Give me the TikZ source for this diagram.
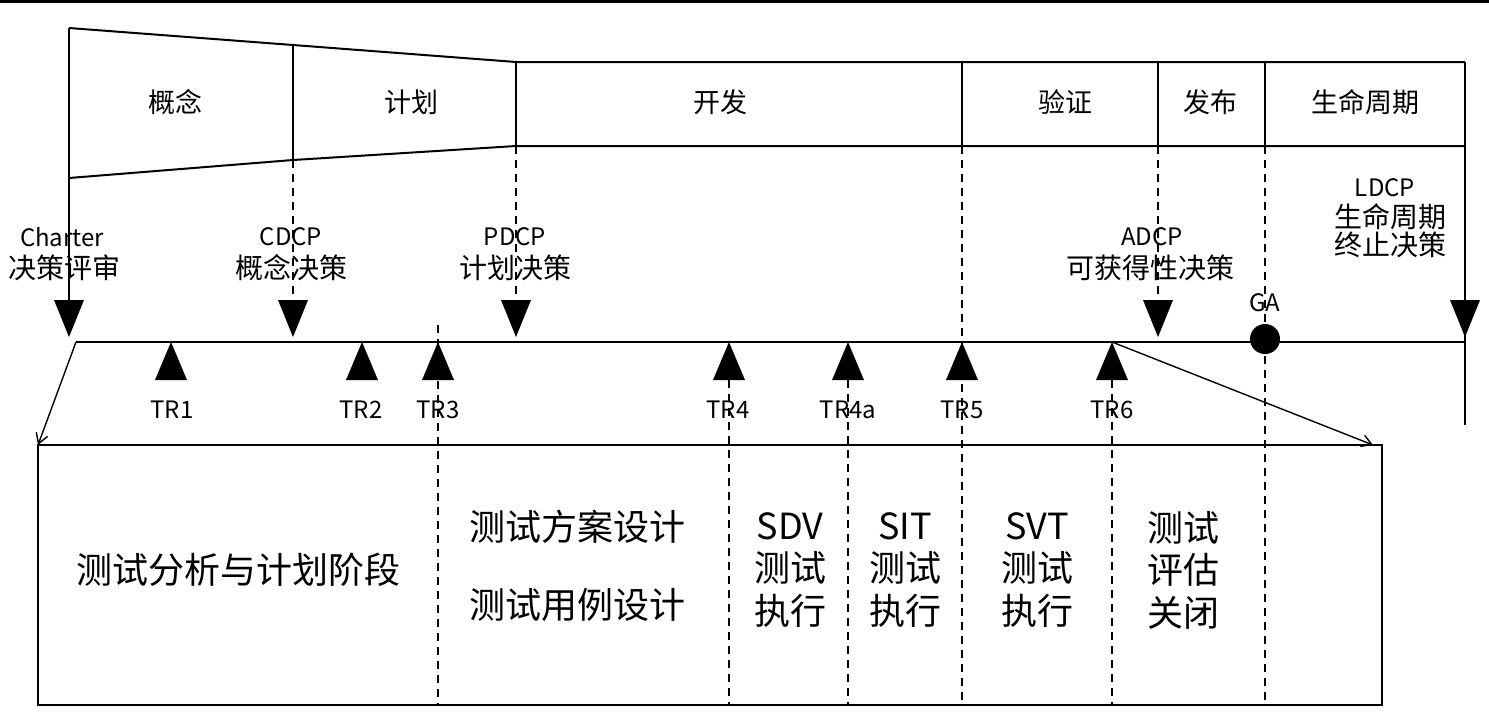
\documentclass[tikz,border=0pt]{standalone}
\usepackage{fontspec}
\setmainfont{Noto Sans CJK SC}
\usetikzlibrary{arrows.meta}

\begin{document}
\begin{tikzpicture}[x=0.5pt,y=-0.5pt,line width=1pt,
    guide/.style={line width=0.7pt,dash pattern=on 4pt off 3pt},
    hdr/.style={font=\fontsize{13.5}{16}\selectfont},
    en/.style={font=\fontsize{12}{14}\selectfont},
    zh/.style={font=\fontsize{14}{14}\selectfont,align=center},
    big/.style={font=\fontsize{18}{21.3}\selectfont,align=center}]
    \useasboundingbox (0,0) rectangle (1489,714);
    \draw[line width=1.5pt] (0,1) -- (1489,1);

    % phase bar
    \draw (69,28) -- (293,45) -- (516,62) -- (1465,62);
    \draw (69,178) -- (293,160) -- (516,146) -- (1465,146);
    \draw (293,45) -- (293,160);
    \draw (516,62) -- (516,146);
    \draw (962,62) -- (962,146);
    \draw (1158,62) -- (1158,146);
    \draw (1265,62) -- (1265,146);
    \draw (69,28) -- (69,305);
    \draw (1465,62) -- (1465,425);
    \node[hdr] (concept) at (175,102) {概念};
    \node[hdr] (plan) at (411,102) {计划};
    \node[hdr] (develop) at (720,102) {开发};
    \node[hdr] (verify) at (1065,102) {验证};
    \node[hdr] (release) at (1210,102) {发布};
    \node[hdr] (lifecycle) at (1365,102) {生命周期};

    % decision points
    \node[en] (charter) at (62,237) {Charter};
    \node[zh] (charterzh) at (65,268) {决策评审};
    \node[en] (cdcp) at (291,237) {CDCP};
    \node[zh] (cdcpzh) at (291,268) {概念决策};
    \node[en] (pdcp) at (515,237) {PDCP};
    \node[zh] (pdcpzh) at (515,268) {计划决策};
    \node[en] (adcp) at (1152,237) {ADCP};
    \node[zh] (adcpzh) at (1150,268) {可获得性决策};
    \node[en] (ldcp) at (1385,188) {LDCP};
    \node[zh] (ldcpzh) at (1390,231) {生命周期\\终止决策};
    \node[en] (ga) at (1265,303) {GA};

    % timeline
    \coordinate (start) at (76,342);
    \coordinate (tr6) at (1112,342);
    \draw (start) -- (1465,342);
    \fill (54,300) -- (84,300) -- (69,337) -- cycle;
    \fill (278,300) -- (308,300) -- (293,337) -- cycle;
    \fill (501,300) -- (531,300) -- (516,337) -- cycle;
    \fill (1143,300) -- (1173,300) -- (1158,337) -- cycle;
    \fill (1450,300) -- (1480,300) -- (1465,337) -- cycle;
    \fill (1265,339) circle (15);

    % technical reviews
    \fill (155,380) -- (187,380) -- (171,342) -- cycle;
    \fill (346,380) -- (378,380) -- (362,342) -- cycle;
    \fill (422,380) -- (454,380) -- (438,342) -- cycle;
    \fill (713,380) -- (745,380) -- (729,342) -- cycle;
    \fill (832,380) -- (864,380) -- (848,342) -- cycle;
    \fill (946,380) -- (978,380) -- (962,342) -- cycle;
    \fill (1096,380) -- (1128,380) -- (1112,342) -- cycle;
    \node[en] (tra) at (172,410) {TR1};
    \node[en] (trb) at (361,410) {TR2};
    \node[en] (trc) at (438,410) {TR3};
    \node[en] (trd) at (728,410) {TR4};
    \node[en] (trda) at (848,410) {TR4a};
    \node[en] (tre) at (962,410) {TR5};
    \node[en] (trf) at (1112,410) {TR6};

    % guide lines
    \draw[guide] (293,160) -- (293,300);
    \draw[guide] (516,146) -- (516,300);
    \draw[guide] (962,146) -- (962,705);
    \draw[guide] (1158,146) -- (1158,300);
    \draw[guide] (1265,146) -- (1265,705);
    \draw[guide] (438,325) -- (438,705);
    \draw[guide] (729,380) -- (729,705);
    \draw[guide] (848,380) -- (848,705);
    \draw[guide] (1112,380) -- (1112,705);

    % test activities
    \coordinate (boxl) at (38,445);
    \coordinate (boxr) at (1373,445);
    \draw (38,445) rectangle (1382,705);
    \draw[line width=0.7pt,-{Straight Barb[length=5pt,width=6pt]}] (start) -- (boxl);
    \draw[line width=0.7pt,-{Straight Barb[length=5pt,width=6pt]}] (tr6) -- (boxr);
    \node[big] (analysis) at (238,570) {测试分析与计划阶段};
    \node[big,font=\fontsize{18}{39}\selectfont] (design) at (577,566) {测试方案设计\\测试用例设计};
    \node[big] (sdv) at (790,570) {SDV\\测试\\执行};
    \node[big] (sit) at (905,570) {SIT\\测试\\执行};
    \node[big] (svt) at (1037,570) {SVT\\测试\\执行};
    \node[big] (close) at (1183,570) {测试\\评估\\关闭};
\end{tikzpicture}
\end{document}
